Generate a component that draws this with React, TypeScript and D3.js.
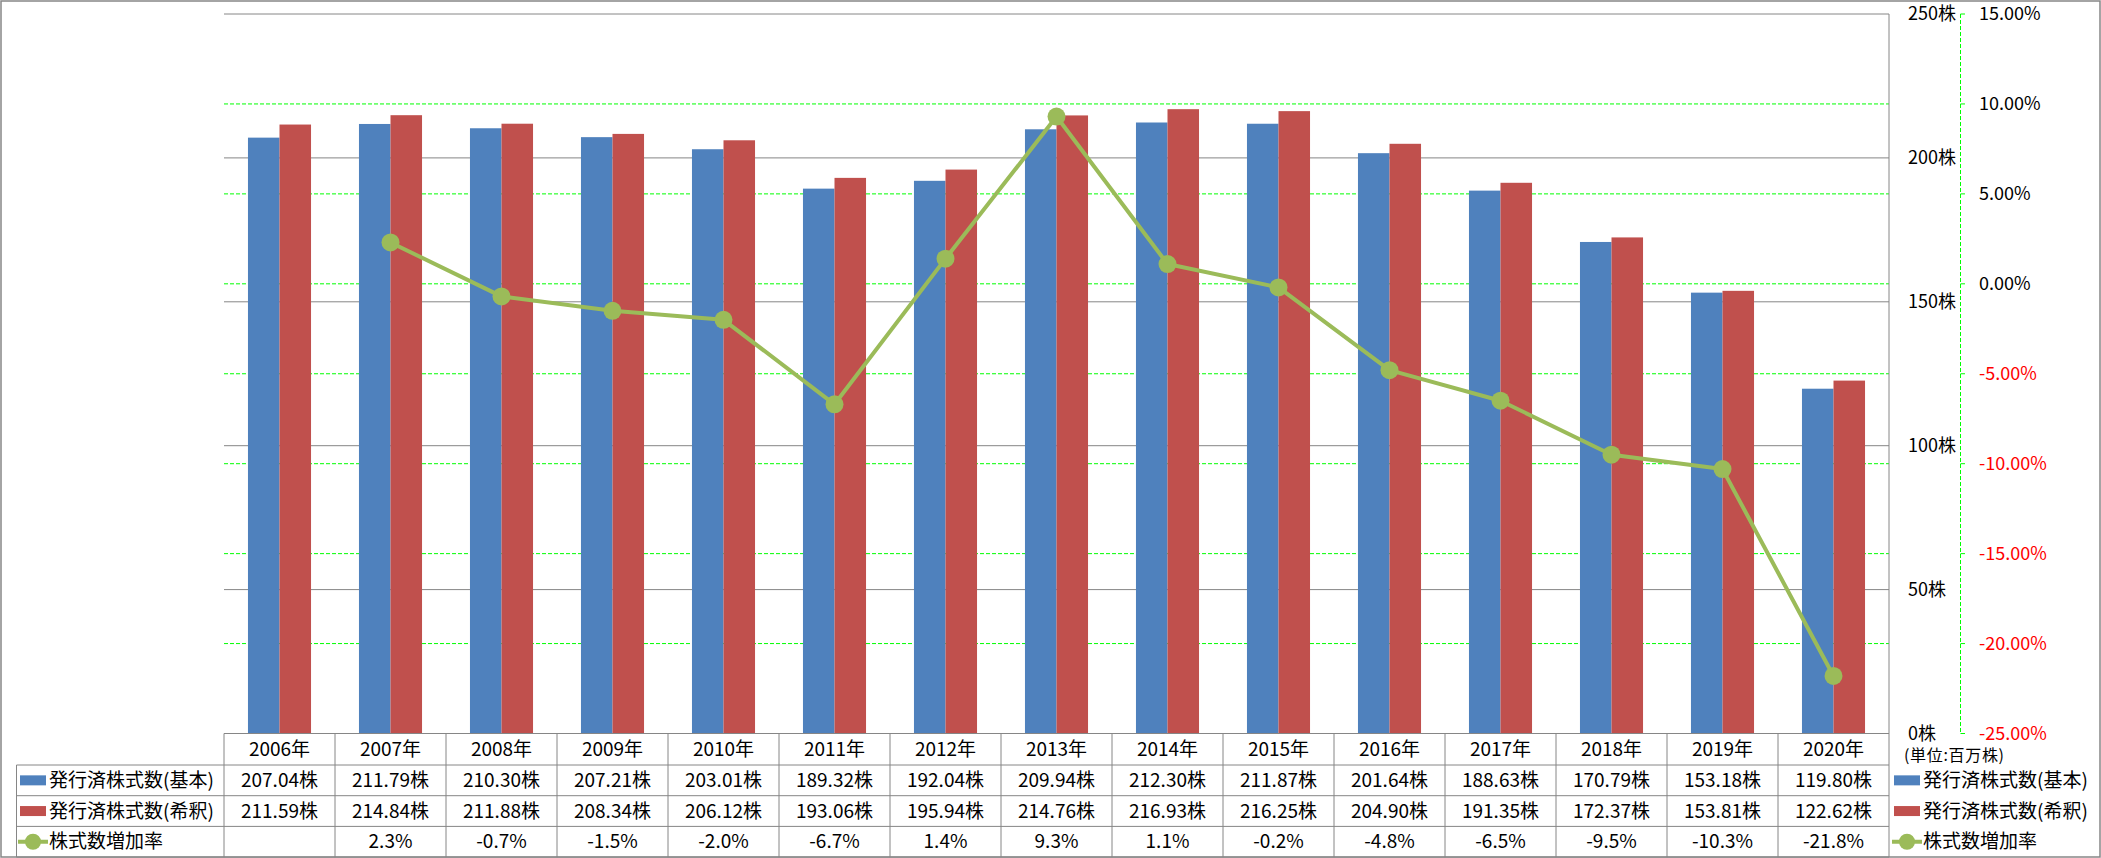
import React, { useEffect } from "react";
import * as d3 from "d3";

// values
const years = ["2006年", "2007年", "2008年", "2009年", "2010年", "2011年", "2012年", "2013年", "2014年", "2015年", "2016年", "2017年", "2018年", "2019年", "2020年"];
const basicShares = [207.04, 211.79, 210.3, 207.21, 203.01, 189.32, 192.04, 209.94, 212.3, 211.87, 201.64, 188.63, 170.79, 153.18, 119.8];
const dilutedShares = [211.59, 214.84, 211.88, 208.34, 206.12, 193.06, 195.94, 214.76, 216.93, 216.25, 204.9, 191.35, 172.37, 153.81, 122.62];
const growthRate: (number | null)[] = [null, 2.3, -0.7, -1.5, -2.0, -6.7, 1.4, 9.3, 1.1, -0.2, -4.8, -6.5, -9.5, -10.3, -21.8];
const seriesNames = ["発行済株式数(基本)", "発行済株式数(希釈)", "株式数増加率"];
const shareTicks = [0, 50, 100, 150, 200, 250];
const rateTicks = [15, 10, 5, 0, -5, -10, -15, -20, -25];

const W = 2101, H = 858;
const BLUE = "#4F81BD", RED = "#C0504D", GREEN = "#9BBB59";
const GRID = "#868686", LIME = "#00FF00";
const FONT = "'Noto Sans CJK JP', 'Noto Sans', sans-serif";

// plain hyphen for negatives, like the original
const loc = d3.formatLocale({ decimal: ".", thousands: ",", grouping: [3], currency: ["", ""], minus: "-" });

export default function App() {
  useEffect(() => {
    document.body.style.margin = "0";
  }, []);

  const left = 224, right = 1889, top = 14, bottom = 733.5;
  const rowH = 30.7;

  const x = d3.scaleBand().domain(years).range([left, right]).padding(0);
  const inner = d3.scaleBand().domain(["basic", "diluted"]).range([0, x.bandwidth()]).paddingInner(0).paddingOuter(0.76);
  const y = d3.scaleLinear().domain([0, 250]).range([bottom, top]);
  const y2 = d3.scaleLinear().domain([-25, 15]).range([bottom, top]);

  const pts = growthRate
    .map((v, i) => ({ v, cx: (x(years[i]) as number) + x.bandwidth() / 2 }))
    .filter((d) => d.v !== null) as { v: number; cx: number }[];
  const line = d3.line<{ v: number; cx: number }>().x((d) => d.cx).y((d) => y2(d.v));

  const fmtShare = (v: number) => loc.format(".2f")(v) + "株";
  const fmtRate = (v: number | null) => (v === null ? "" : loc.format(".1f")(v) + "%");

  const rows = [
    { name: seriesNames[0], vals: basicShares.map(fmtShare) },
    { name: seriesNames[1], vals: dilutedShares.map(fmtShare) },
    { name: seriesNames[2], vals: growthRate.map(fmtRate) },
  ];
  const tableTop = bottom;
  const headerH = 31.5;
  const rowTop = (r: number) => tableTop + headerH + r * rowH;
  const tableBottom = rowTop(3);

  const legendIcon = (i: number, ix: number, cy: number) => {
    if (i < 2)
      return <rect x={ix} y={cy - 5} width={26} height={10} fill={i === 0 ? BLUE : RED} />;
    return (
      <g>
        <line x1={ix - 2} x2={ix + 28} y1={cy} y2={cy} stroke={GREEN} strokeWidth={4} />
        <circle cx={ix + 13} cy={cy} r={8} fill={GREEN} />
      </g>
    );
  };

  return (
    <svg width={W} height={H} style={{ display: "block", fontFamily: FONT }}>
      <rect x={0} y={0} width={W} height={H} fill="#fff" />
      <rect x={1} y={1} width={W - 2} height={H - 2} fill="none" stroke={GRID} strokeWidth={1.5} />

      {/* secondary gridlines */}
      {rateTicks.filter((t) => t > -25 && t < 15).map((t) => (
        <line key={"g" + t} x1={left} x2={right} y1={y2(t)} y2={y2(t)} stroke={LIME} strokeDasharray="4,2" />
      ))}
      {/* primary gridlines */}
      {shareTicks.filter((t) => t > 0).map((t) => (
        <line key={"p" + t} x1={left} x2={right} y1={y(t)} y2={y(t)} stroke={GRID} />
      ))}

      {/* bars */}
      {years.map((yr, i) => (
        <g key={yr} transform={`translate(${x(yr)},0)`}>
          <rect x={inner("basic")} y={y(basicShares[i])} width={inner.bandwidth()} height={bottom - y(basicShares[i])} fill={BLUE} />
          <rect x={inner("diluted")} y={y(dilutedShares[i])} width={inner.bandwidth()} height={bottom - y(dilutedShares[i])} fill={RED} />
        </g>
      ))}

      {/* growth line */}
      <path d={line(pts) || ""} fill="none" stroke={GREEN} strokeWidth={4} strokeLinejoin="round" />
      {pts.map((d, i) => (
        <circle key={i} cx={d.cx} cy={y2(d.v)} r={9} fill={GREEN} />
      ))}

      {/* primary axis (right) */}
      <line x1={right} x2={right} y1={top} y2={tableBottom} stroke={GRID} />
      {shareTicks.map((t) => (
        <text key={"pl" + t} x={1908} y={y(t)} dy="0.35em" fontSize={18}>{t}株</text>
      ))}
      <text x={1904} y={755} dy="0.35em" fontSize={16} textLength={100} lengthAdjust="spacing">(単位:百万株)</text>

      {/* secondary axis */}
      <line x1={1960.5} x2={1960.5} y1={top} y2={bottom} stroke={LIME} strokeDasharray="4,2" />
      {rateTicks.map((t) => (
        <g key={"sl" + t}>
          <line x1={1960.5} x2={1965} y1={y2(t)} y2={y2(t)} stroke={LIME} />
          <text x={1979} y={y2(t)} dy="0.35em" fontSize={18} fill={t < 0 ? "#FF0000" : "#000"}>
            {loc.format(".2f")(t)}%
          </text>
        </g>
      ))}

      {/* data table */}
      <g stroke={GRID} strokeWidth={1}>
        <line x1={left} x2={right} y1={tableTop} y2={tableTop} />
        {[0, 1, 2, 3].map((r) => (
          <line key={"h" + r} x1={16.5} x2={right} y1={rowTop(r)} y2={rowTop(r)} />
        ))}
        <line x1={16.5} x2={16.5} y1={rowTop(0)} y2={tableBottom} />
        {years.map((yr) => (
          <line key={"v" + yr} x1={x(yr)} x2={x(yr)} y1={tableTop} y2={tableBottom} />
        ))}
      </g>
      {years.map((yr) => (
        <text key={"yh" + yr} x={(x(yr) as number) + x.bandwidth() / 2} y={tableTop + headerH / 2} dy="0.35em" textAnchor="middle" fontSize={19}>
          {yr}
        </text>
      ))}
      {rows.map((row, r) => (
        <g key={"row" + r}>
          {legendIcon(r, 20, rowTop(r) + rowH / 2)}
          <text x={49} y={rowTop(r) + rowH / 2} dy="0.35em" fontSize={19}>{row.name}</text>
          {row.vals.map((v, i) => (
            <text key={i} x={(x(years[i]) as number) + x.bandwidth() / 2} y={rowTop(r) + rowH / 2} dy="0.35em" textAnchor="middle" fontSize={19}>
              {v}
            </text>
          ))}
        </g>
      ))}

      {/* right legend */}
      {seriesNames.map((n, i) => (
        <g key={"lg" + i}>
          {legendIcon(i, 1894, rowTop(i) + rowH / 2)}
          <text x={1923} y={rowTop(i) + rowH / 2} dy="0.35em" fontSize={19}>{n}</text>
        </g>
      ))}
    </svg>
  );
}
